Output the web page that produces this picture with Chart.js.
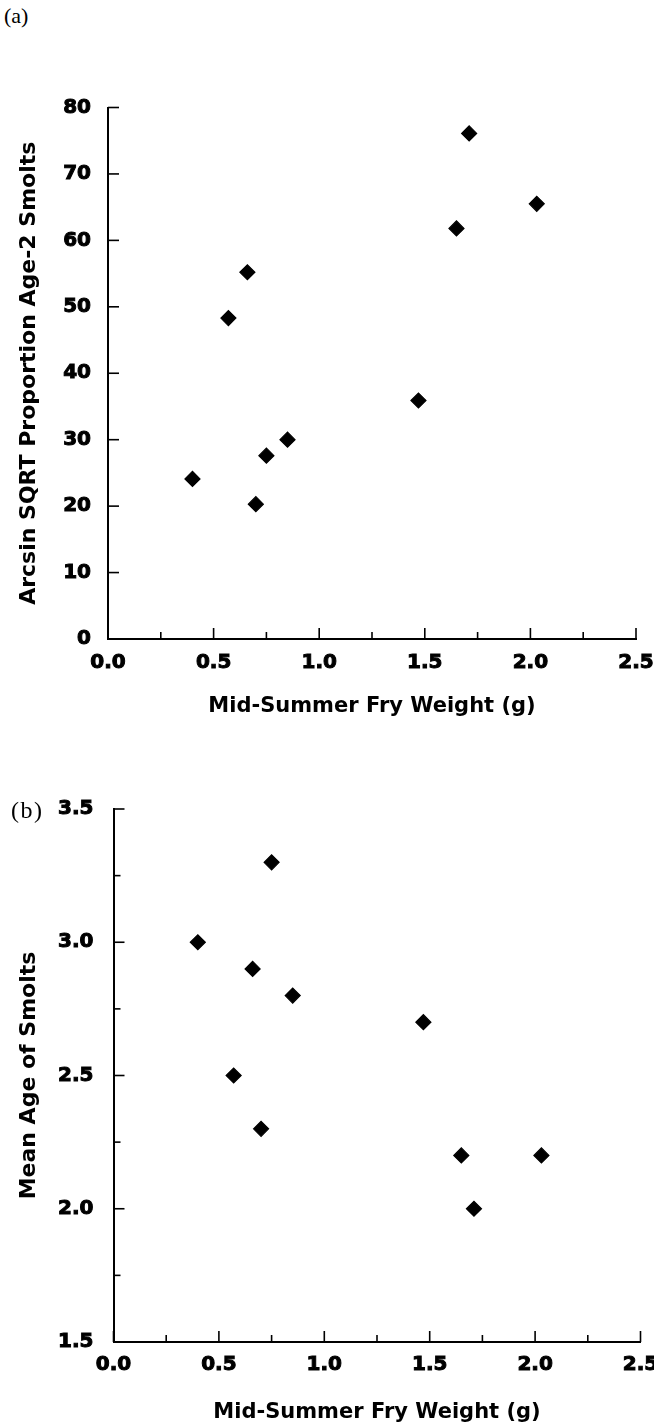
<!DOCTYPE html>
<html>
<head>
<meta charset="utf-8">
<script src="https://cdn.jsdelivr.net/npm/chart.js@4.4.1/dist/chart.umd.min.js"></script>
<style>
  html, body { margin: 0; padding: 0; background: #fff; }
  body { width: 654px; height: 1426px; position: relative; overflow: hidden; }
  .box { position: absolute; left: 0; width: 654px; }
  .panel { position: absolute; font-family: "Liberation Serif", "DejaVu Serif", serif; font-size: 22px; line-height: 22px; color: #000; }
</style>
</head>
<body>
<div class="panel" id="labA" style="left:4px; top:5px;">(a)</div>
<div class="box" style="top:0; height:720px;"><canvas id="chartA"></canvas></div>
<div class="box" style="top:720px; height:706px;"><canvas id="chartB"></canvas></div>
<div class="panel" id="labB" style="left:11px; top:798px; font-size:24px; line-height:24px; letter-spacing:1.5px;">(b)</div>
<script>
// ---- data ----
const fryWeight = [0.40, 0.57, 0.66, 0.70, 0.75, 0.85, 1.47, 1.65, 1.71, 2.03];
const arcsinAge2 = [24.1, 48.3, 55.2, 20.3, 27.6, 30.0, 35.9, 61.8, 76.1, 65.5];
const meanAge = [3.0, 2.5, 2.9, 2.3, 3.3, 2.8, 2.7, 2.2, 2.0, 2.2];

// ---- tick labels ----
const xTickLabels = ['0.0', '0.5', '1.0', '1.5', '2.0', '2.5'];
const yTopTickLabels = ['0', '10', '20', '30', '40', '50', '60', '70', '80'];
const yBottomTickLabels = ['1.5', '2.0', '2.5', '3.0', '3.5'];

const xTitle = 'Mid-Summer Fry Weight (g)';
const yTopTitle = 'Arcsin SQRT Proportion Age-2 Smolts';
const yBottomTitle = 'Mean Age of Smolts';

const tickFont = { family: 'DejaVu Sans', size: 20, weight: 'bold' };

function labelFrom(list, decimals) {
  return function (v) {
    const s = Number(v).toFixed(decimals);
    return list.includes(s) ? s : '';
  };
}

const inwardTicks = {
  id: 'inwardTicks',
  afterDraw(chart, args, opts) {
    const ctx = chart.ctx;
    const area = chart.chartArea;
    ctx.save();
    ctx.strokeStyle = '#000';
    ctx.lineWidth = 1.6;
    Object.values(chart.scales).forEach(scale => {
      scale.ticks.forEach((t, i) => {
        const text = scale.options.ticks.callback.call(scale, t.value, i, scale.ticks);
        const major = text !== '';
        const len = major ? opts.major : opts.minor;
        const p = scale.getPixelForValue(t.value);
        ctx.beginPath();
        if (scale.isHorizontal()) {
          ctx.moveTo(p, area.bottom);
          ctx.lineTo(p, area.bottom - len);
        } else {
          ctx.moveTo(area.left, p);
          ctx.lineTo(area.left + len, p);
        }
        ctx.stroke();
      });
    });
    ctx.restore();
  }
};

function makeChart(id, yData, cfg) {
  const points = fryWeight.map((x, i) => ({ x: x, y: yData[i] }));
  return new Chart(document.getElementById(id), {
    type: 'scatter',
    data: {
      datasets: [{
        data: points,
        pointStyle: 'rectRot',
        pointRadius: 7.5,
        pointHoverRadius: 7.5,
        backgroundColor: '#000',
        borderColor: '#000',
        borderWidth: 1.2
      }]
    },
    options: {
      responsive: true,
      maintainAspectRatio: false,
      animation: false,
      devicePixelRatio: 1,
      layout: { padding: { top: cfg.padTop, right: cfg.padRight, left: 0, bottom: 0 } },
      plugins: {
        legend: { display: false },
        tooltip: { enabled: false },
        inwardTicks: { major: 11, minor: 7 }
      },
      scales: {
        x: {
          type: 'linear',
          min: 0, max: 2.5,
          grid: { display: false, drawTicks: false },
          border: { display: true, color: '#000', width: 2 },
          ticks: {
            stepSize: 0.25,
            autoSkip: false,
            maxRotation: 0,
            padding: cfg.xPad,
            color: '#000',
            textStrokeColor: '#000',
            textStrokeWidth: 1,
            font: tickFont,
            callback: labelFrom(xTickLabels, 1)
          },
          title: {
            display: true,
            text: xTitle,
            color: '#000',
            font: { family: 'DejaVu Sans', size: 21, weight: 'bold' },
            padding: { top: 0, bottom: 1 }
          },
          afterFit(scale) { scale.height = cfg.xHeight; scale.paddingLeft = 0; scale.paddingRight = 0; }
        },
        y: {
          type: 'linear',
          min: cfg.yMin, max: cfg.yMax,
          grid: { display: false, drawTicks: false },
          border: { display: true, color: '#000', width: 2 },
          ticks: {
            stepSize: cfg.yStep,
            autoSkip: false,
            padding: cfg.yPad,
            color: '#000',
            textStrokeColor: '#000',
            textStrokeWidth: 1,
            font: tickFont,
            callback: labelFrom(cfg.yLabels, cfg.yDec)
          },
          title: {
            display: true,
            text: cfg.yTitle,
            color: '#000',
            font: { family: 'DejaVu Sans', size: 22, weight: 'bold' },
            padding: { top: 16, bottom: 0 }
          },
          afterFit(scale) { scale.width = cfg.yWidth; scale.paddingTop = 0; scale.paddingBottom = 0; }
        }
      }
    },
    plugins: [inwardTicks]
  });
}

makeChart('chartA', arcsinAge2, {
  padTop: 107.5, padRight: 18, xHeight: 81, yWidth: 108, xPad: 12, yPad: 17,
  yMin: 0, yMax: 80, yStep: 10, yLabels: yTopTickLabels, yDec: 0, yTitle: yTopTitle
});
makeChart('chartB', meanAge, {
  padTop: 89, padRight: 13.5, xHeight: 84, yWidth: 113.5, xPad: 11, yPad: 20,
  yMin: 1.5, yMax: 3.5, yStep: 0.25, yLabels: yBottomTickLabels, yDec: 1, yTitle: yBottomTitle
});
</script>
</body>
</html>
